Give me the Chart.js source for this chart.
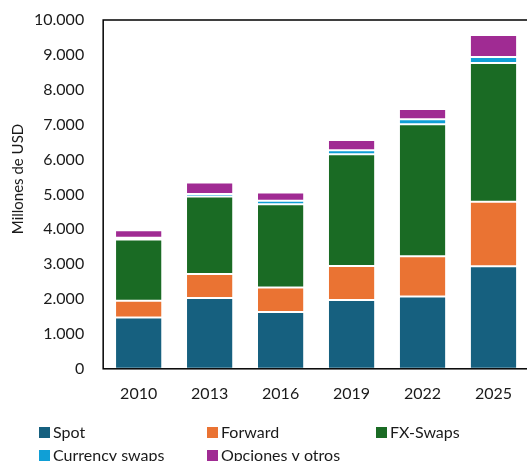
<!DOCTYPE html>
<html>
<head>
<meta charset="utf-8">
<script src="https://cdn.jsdelivr.net/npm/chart.js@4/dist/chart.umd.min.js"></script>
<style>
  html, body { margin: 0; padding: 0; background: #fff; overflow: hidden; }
  #wrap { width: 527px; height: 461px; overflow: hidden; position: relative; }
  canvas { position: absolute; left: 0; top: 0; }
</style>
</head>
<body>
<div id="wrap"><canvas id="myChart" width="532" height="461"></canvas></div>
<script>
const years = ['2010', '2013', '2016', '2019', '2022', '2025'];
const spot = [1470, 2030, 1630, 1970, 2070, 2940];
const forward = [480, 690, 700, 980, 1160, 1850];
const fxSwaps = [1760, 2220, 2390, 3200, 3780, 3980];
const currencySwaps = [50, 70, 95, 115, 145, 170];
const opciones = [210, 330, 240, 295, 295, 630];
const yTicks = [0, 1000, 2000, 3000, 4000, 5000, 6000, 7000, 8000, 9000, 10000];

const font = 'Lato';

function fmt(v) {
  return String(v).replace(/\B(?=(\d{3})+(?!\d))/g, '.');
}

function ds(label, values, color) {
  return {
    label: label,
    data: values,
    backgroundColor: color,
    borderColor: 'rgba(255,255,255,0.45)',
    borderWidth: 1,
    borderSkipped: false,
    categoryPercentage: 0.665,
    barPercentage: 1.0
  };
}

const data = {
  labels: years,
  datasets: [
    ds('Spot', spot, '#16607f'),
    ds('Forward', forward, '#ea7333'),
    ds('FX-Swaps', fxSwaps, '#1a6b24'),
    ds('Currency swaps', currencySwaps, '#109fd6'),
    ds('Opciones y otros', opciones, '#a02b93')
  ]
};

// frame, y title and legend drawn by hand
const extras = {
  id: 'extras',
  afterDraw(chart) {
    const ctx = chart.ctx;
    const a = chart.chartArea;
    ctx.save();
    ctx.strokeStyle = '#000';
    ctx.lineWidth = 1.5;
    ctx.strokeRect(a.left, a.top, a.right - a.left, a.bottom - a.top);

    ctx.fillStyle = '#1a1a1a';
    ctx.font = '15px ' + font;
    ctx.translate(18, 179);
    ctx.rotate(-Math.PI / 2);
    ctx.textAlign = 'center';
    ctx.textBaseline = 'middle';
    ctx.fillText('Millones de USD', 0, 0);
    ctx.restore();

    const cols = [39, 207, 376];
    const rows = [432, 455];
    ctx.save();
    ctx.font = '16px ' + font;
    ctx.textBaseline = 'middle';
    chart.data.datasets.forEach(function(d, i) {
      const x = cols[i % 3];
      const y = rows[Math.floor(i / 3)];
      ctx.fillStyle = d.backgroundColor;
      ctx.fillRect(x, y - 5, 11, 11);
      ctx.fillStyle = '#1a1a1a';
      ctx.fillText(d.label, x + 14, y + 1);
    });
    ctx.restore();
  }
};

const config = {
  type: 'bar',
  data: data,
  options: {
    responsive: false,
    animation: false,
    layout: { padding: { left: 15, top: 20, right: 3, bottom: 43 } },
    scales: {
      x: {
        stacked: true,
        grid: { display: false, drawTicks: false },
        border: { display: false },
        ticks: { color: '#1a1a1a', font: { family: font, size: 16 }, padding: 15 }
      },
      y: {
        stacked: true,
        min: 0,
        max: 10000,
        afterBuildTicks: function(axis) {
          axis.ticks = yTicks.map(function(v) { return { value: v }; });
        },
        afterFit: function(axis) {
          axis.paddingTop = 0;
          axis.paddingBottom = 0;
        },
        grid: { display: false, drawTicks: false },
        border: { display: false },
        ticks: {
          color: '#1a1a1a',
          font: { family: font, size: 16 },
          padding: 19,
          callback: function(v) { return fmt(v); }
        }
      }
    },
    plugins: {
      legend: { display: false },
      title: { display: false },
      tooltip: { enabled: false }
    }
  },
  plugins: [extras]
};

const myChart = new Chart(document.getElementById('myChart'), config);
</script>
</body>
</html>
